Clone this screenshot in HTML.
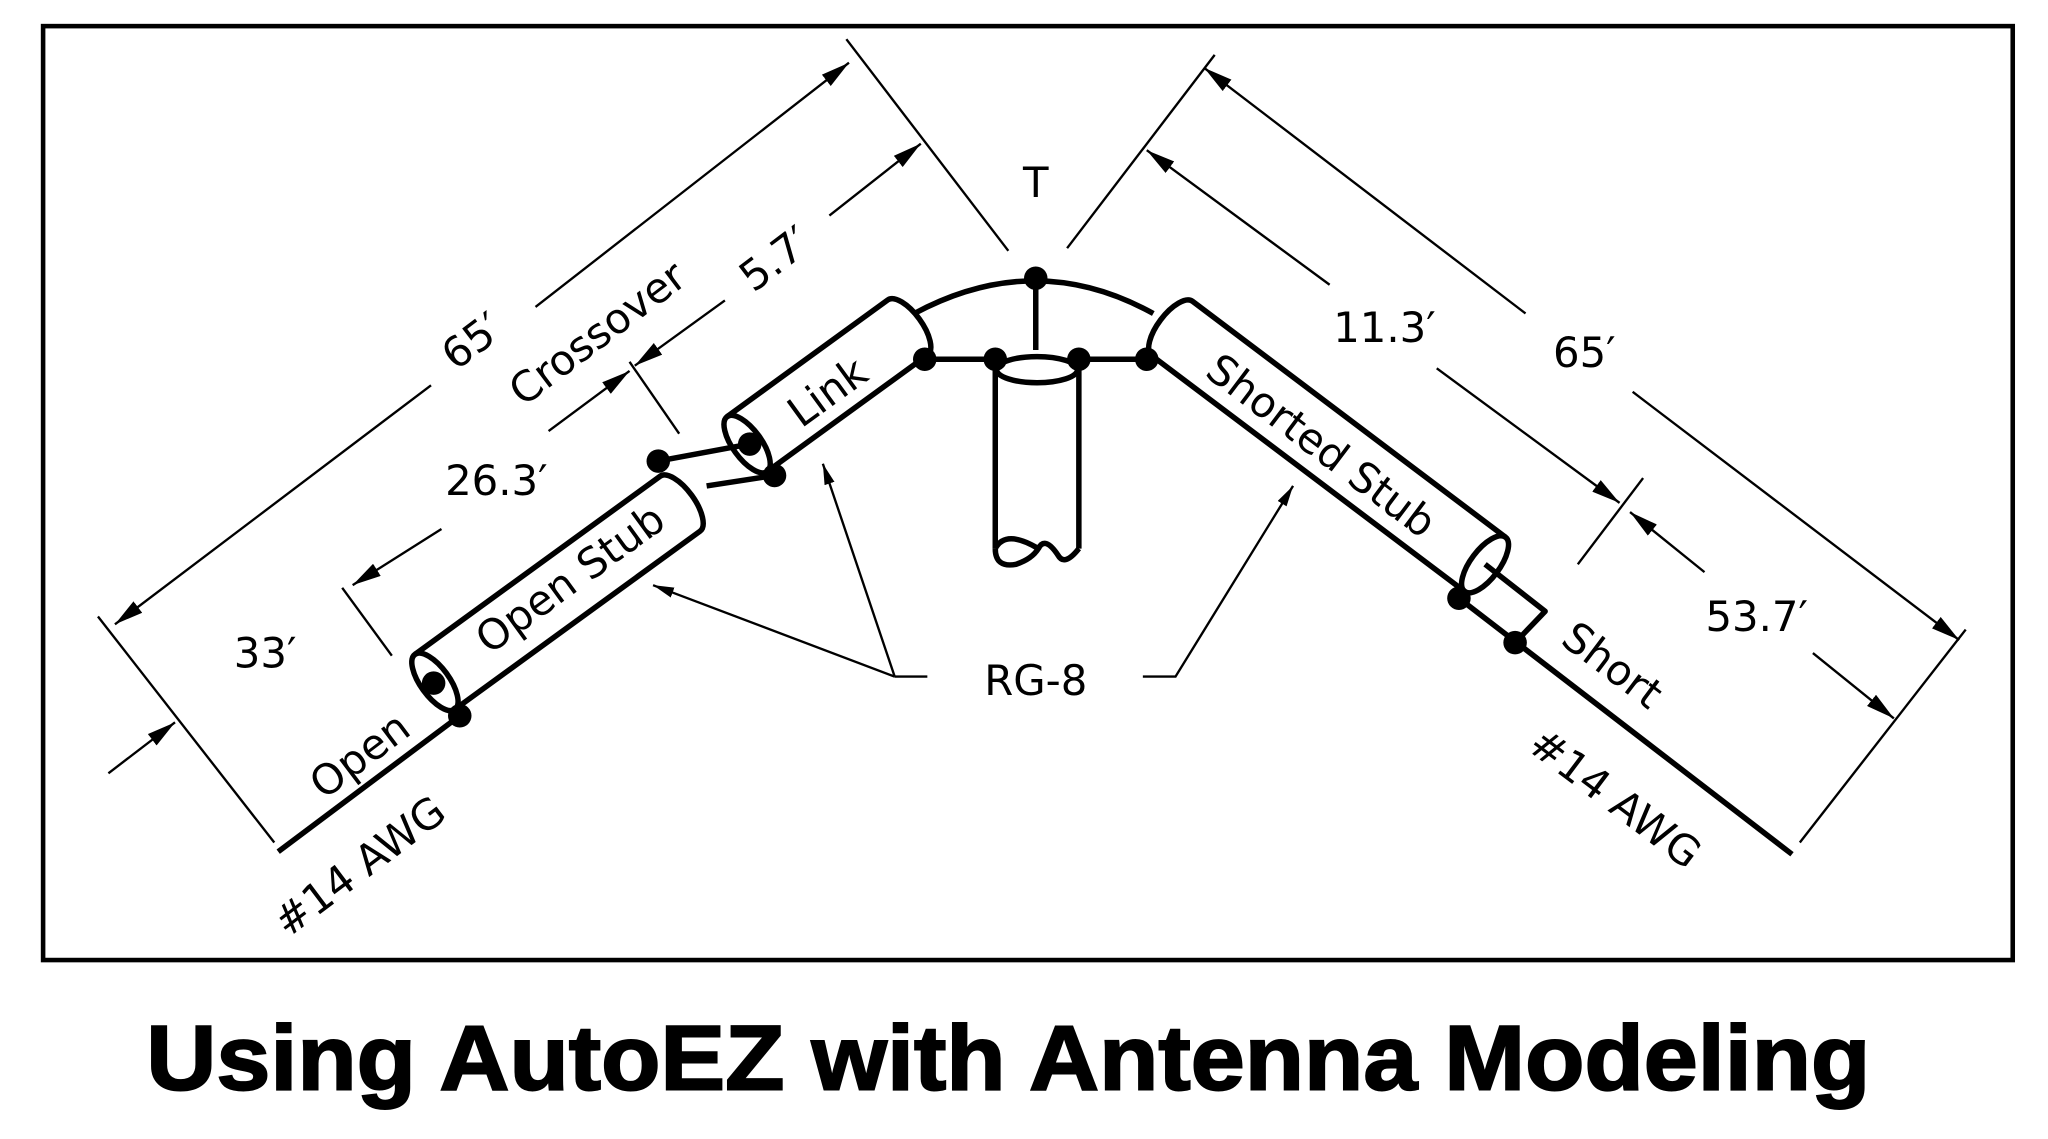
<!DOCTYPE html>
<html><head><style>
html,body{margin:0;padding:0;background:#fff;}
svg{display:block;}
text{font-family:"DejaVu Sans","Liberation Sans",sans-serif;fill:#000;}
</style></head><body>
<svg width="2048" height="1139" viewBox="0 0 1568 872" preserveAspectRatio="none" xmlns="http://www.w3.org/2000/svg">
<defs>
<marker id="ah" viewBox="0 0 20 10" refX="20" refY="5" markerWidth="22" markerHeight="11" markerUnits="userSpaceOnUse" orient="auto">
<path d="M0,0 L20,5 L0,10 Z" fill="#000"/>
</marker>
<marker id="as" viewBox="0 0 16 8" refX="16" refY="4" markerWidth="16" markerHeight="8" markerUnits="userSpaceOnUse" orient="auto">
<path d="M0,0 L16,4 L0,8 Z" fill="#000"/>
</marker>
</defs>
<rect x="33" y="20" width="1508" height="715" fill="none" stroke="#000" stroke-width="3.5"/>

<g stroke="#000" stroke-width="1.8" fill="none">
<line x1="75" y1="472" x2="210" y2="645"/>
<line x1="648" y1="30" x2="772" y2="192"/>
<line x1="330" y1="295" x2="88" y2="478" marker-end="url(#ah)"/>
<line x1="410" y1="235" x2="650" y2="48" marker-end="url(#ah)"/>
<line x1="635" y1="165" x2="705" y2="110" marker-end="url(#ah)"/>
<line x1="555" y1="230" x2="486" y2="280" marker-end="url(#ah)"/>
<line x1="420" y1="330" x2="482" y2="284" marker-end="url(#ah)"/>
<line x1="482" y1="277" x2="520" y2="332"/>
<line x1="338" y1="405" x2="270" y2="448" marker-end="url(#ah)"/>
<line x1="262" y1="450" x2="300" y2="502"/>
<line x1="83" y1="592" x2="134" y2="553" marker-end="url(#ah)"/>
<line x1="930" y1="42" x2="817" y2="190"/>
<line x1="1505" y1="482" x2="1378" y2="645"/>
<line x1="1168" y1="240" x2="922" y2="52" marker-end="url(#ah)"/>
<line x1="1250" y1="300" x2="1500" y2="490" marker-end="url(#ah)"/>
<line x1="1018" y1="218" x2="878" y2="115" marker-end="url(#ah)"/>
<line x1="1100" y1="282" x2="1240" y2="385" marker-end="url(#ah)"/>
<line x1="1208" y1="432" x2="1258" y2="366"/>
<line x1="1305" y1="438" x2="1248" y2="392" marker-end="url(#ah)"/>
<line x1="1388" y1="500" x2="1450" y2="550" marker-end="url(#ah)"/>
<line x1="710" y1="518" x2="685" y2="518"/>
<line x1="685" y1="518" x2="500" y2="448" marker-end="url(#as)"/>
<line x1="685" y1="518" x2="630" y2="355" marker-end="url(#as)"/>
<polyline points="875,518 900,518 990,372" marker-end="url(#as)"/>
</g>

<g stroke="#000" stroke-width="4.2" fill="none" stroke-linejoin="round">
<line x1="213" y1="652" x2="352" y2="548"/>
<line x1="1117" y1="458" x2="1372" y2="654"/>
<line x1="504" y1="353" x2="574" y2="340"/>
<line x1="541" y1="372" x2="593" y2="364"/>
<g transform="translate(333,522) rotate(-36)">
<path d="M0,-26 L232,-26 A11,26 0 0 1 232,26 L0,26"/>
<ellipse cx="0" cy="0" rx="11" ry="26"/>
</g>
<g transform="translate(572,340) rotate(-36)">
<path d="M0,-26 L152,-26 A11,26 0 0 1 152,26 L0,26"/>
<ellipse cx="0" cy="0" rx="11" ry="26"/>
</g>
<g transform="translate(1137,432) rotate(37)">
<path d="M0,-26 L-300,-26 A11,26 0 0 0 -300,26 L0,26"/>
<ellipse cx="0" cy="0" rx="11" ry="26"/>
</g>
<polyline points="1137,432 1183,468 1160,492"/>
<path d="M700,240 Q793,190 883,240"/>
<line x1="793" y1="213" x2="793" y2="268"/>
<line x1="708" y1="275" x2="762" y2="275"/>
<line x1="826" y1="275" x2="878" y2="275"/>
<ellipse cx="794" cy="283" rx="31" ry="10"/>
<line x1="762" y1="280" x2="762" y2="420"/>
<line x1="826" y1="280" x2="826" y2="420"/>
<path d="M762,420 Q762,435 778,432 Q790,428 795,420 Q800,410 810,425 Q815,434 826,420"/>
<path d="M762,420 Q770,405 795,420"/>
</g>
<g fill="#000">
<circle cx="332" cy="523" r="9"/>
<circle cx="352" cy="548" r="9"/>
<circle cx="504" cy="353" r="9"/>
<circle cx="574" cy="340" r="9"/>
<circle cx="593" cy="364" r="9"/>
<circle cx="708" cy="275" r="9"/>
<circle cx="762" cy="275" r="9"/>
<circle cx="826" cy="275" r="9"/>
<circle cx="878" cy="275" r="9"/>
<circle cx="793" cy="213" r="9"/>
<circle cx="1117" cy="458" r="9"/>
<circle cx="1160" cy="492" r="9"/>
</g>

<g font-size="32" text-anchor="middle">
<text x="793" y="151">T</text>
<text x="793" y="532">RG-8</text>
<text x="203" y="511">33′</text>
<text x="380" y="379">26.3′</text>
<text x="1060" y="262">11.3′</text>
<text x="1213" y="281">65′</text>
<text x="1345" y="483">53.7′</text>
<text transform="translate(368,270) rotate(-37)">65′</text>
<text transform="translate(600,207) rotate(-37)">5.7′</text>
<text transform="translate(464,264) rotate(-37)">Crossover</text>
<text transform="translate(443,452) rotate(-36)">Open Stub</text>
<text transform="translate(640,309) rotate(-36)">Link</text>
<text transform="translate(282,587) rotate(-37)">Open</text>
<text transform="translate(282,672) rotate(-37)">#14 AWG</text>
<text transform="translate(1005,350) rotate(37)">Shorted Stub</text>
<text transform="translate(1228,518) rotate(37)">Short</text>
<text transform="translate(1230,620) rotate(37)">#14 AWG</text>
</g>

<text x="772" y="834" text-anchor="middle" font-size="70" font-weight="bold" textLength="1320" lengthAdjust="spacingAndGlyphs" style="font-family:'Liberation Sans',sans-serif;" stroke="#000" stroke-width="1.5">Using AutoEZ with Antenna Modeling</text>
</svg>
</body></html>
